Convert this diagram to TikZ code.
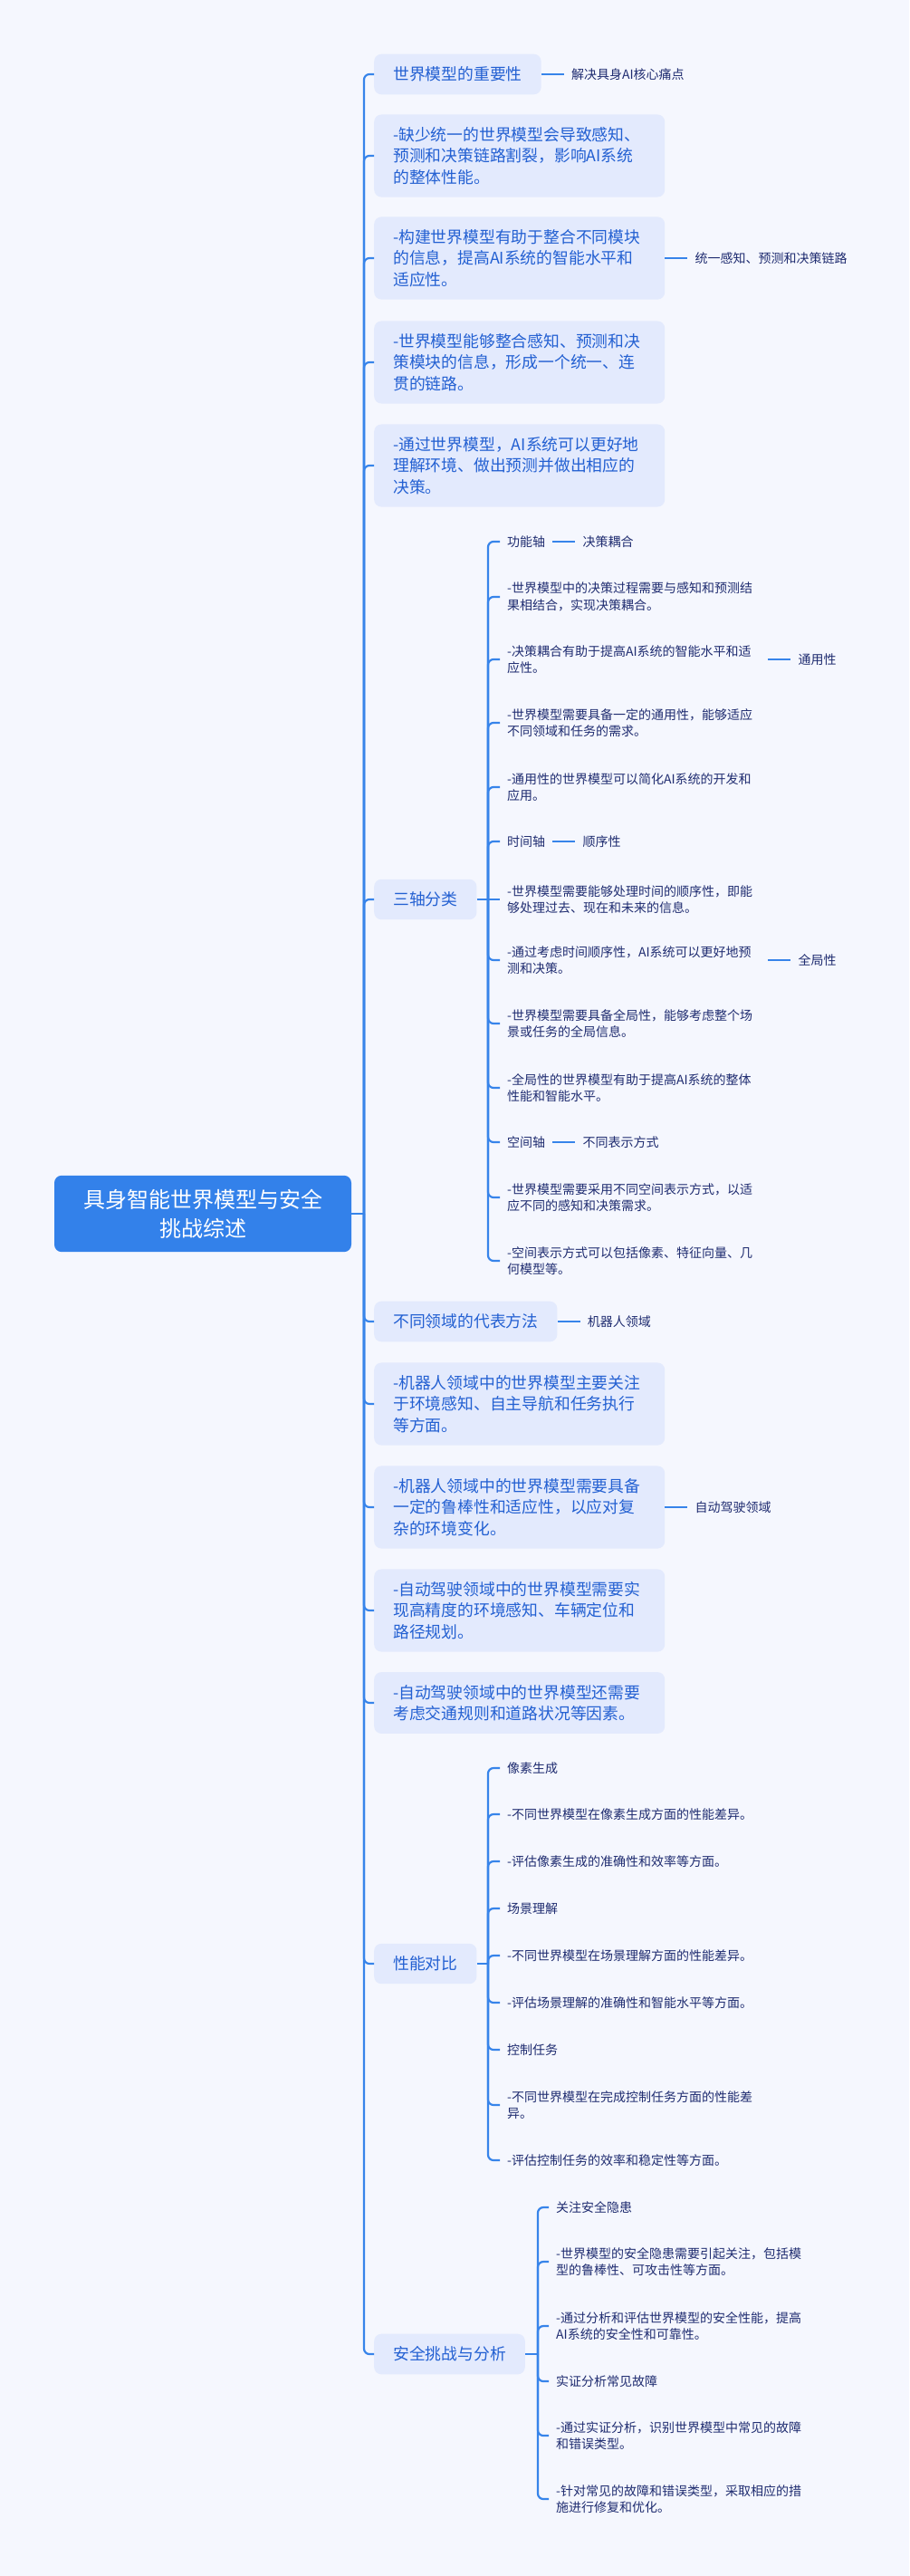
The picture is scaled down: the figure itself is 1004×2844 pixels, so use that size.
\documentclass[tikz,border=0pt]{standalone}
\usepackage{fontspec}
\setmainfont{Noto Sans CJK SC}
\usetikzlibrary{positioning}
\definecolor{bgcol}{HTML}{F5F7FE}
\definecolor{rootblue}{HTML}{3381EA}
\definecolor{topicfill}{HTML}{E3EAFD}
\definecolor{topiccol}{HTML}{2360D2}
\definecolor{itemcol}{HTML}{1F2C70}
\definecolor{linkblue}{HTML}{3784EA}

\begin{document}
\begin{tikzpicture}[x=1pt, y=-1pt, node distance=25pt,
  rootbox/.style={fill=rootblue, text=white, rounded corners=8pt, font=\fontsize{24}{32}\selectfont, align=center, minimum width=328pt, inner ysep=15pt},
  topicbox/.style={fill=topicfill, text=topiccol, rounded corners=8pt, font=\fontsize{17.8}{23.3}\selectfont, align=left, inner xsep=21pt, inner ysep=14pt, anchor=west},
  widebox/.style={topicbox, text width=279pt},
  itemtext/.style={text=itemcol, font=\fontsize{14}{18.5}\selectfont, align=left, inner xsep=8pt, inner ysep=4pt, anchor=west},
  wideitem/.style={itemtext, text width=280pt},
  leaftext/.style={text=itemcol, font=\fontsize{14}{18.5}\selectfont, inner xsep=8pt},
  branch/.style={draw=linkblue, line width=2.2pt, rounded corners=6pt}]

\fill[bgcol] (0,0) rectangle (1004,2844);

% root
\node[rootbox] (root) at (224,1340) {具身智能世界模型与安全\\挑战综述};

% first level
\node[topicbox] (imp) at (413,82) {世界模型的重要性};
\node[leaftext, right=of imp] (impL) {解决具身AI核心痛点};
\node[widebox] (imp1) at (413,172) {-缺少统一的世界模型会导致感知、\\预测和决策链路割裂，影响AI系统\\的整体性能。};
\node[widebox] (imp2) at (413,285) {-构建世界模型有助于整合不同模块\\的信息，提高AI系统的智能水平和\\适应性。};
\node[leaftext, right=of imp2] (imp2L) {统一感知、预测和决策链路};
\node[widebox] (imp3) at (413,400) {-世界模型能够整合感知、预测和决\\策模块的信息，形成一个统一、连\\贯的链路。};
\node[widebox] (imp4) at (413,514) {-通过世界模型，AI系统可以更好地\\理解环境、做出预测并做出相应的\\决策。};

\node[topicbox] (axis) at (413,993) {三轴分类};

\node[topicbox] (dom) at (413,1459) {不同领域的代表方法};
\node[leaftext, right=of dom] (domL) {机器人领域};
\node[widebox] (dom1) at (413,1550) {-机器人领域中的世界模型主要关注\\于环境感知、自主导航和任务执行\\等方面。};
\node[widebox] (dom2) at (413,1664) {-机器人领域中的世界模型需要具备\\一定的鲁棒性和适应性，以应对复\\杂的环境变化。};
\node[leaftext, right=of dom2] (dom2L) {自动驾驶领域};
\node[widebox] (dom3) at (413,1778) {-自动驾驶领域中的世界模型需要实\\现高精度的环境感知、车辆定位和\\路径规划。};
\node[widebox] (dom4) at (413,1880) {-自动驾驶领域中的世界模型还需要\\考虑交通规则和道路状况等因素。};

\node[topicbox] (perf) at (413,2168) {性能对比};
\node[topicbox] (safe) at (413,2599) {安全挑战与分析};

% 三轴分类
\node[itemtext] (ax1) at (552,598) {功能轴};
\node[leaftext, right=of ax1] (ax1L) {决策耦合};
\node[wideitem] (ax2) at (552,659) {-世界模型中的决策过程需要与感知和预测结\\果相结合，实现决策耦合。};
\node[wideitem] (ax3) at (552,728) {-决策耦合有助于提高AI系统的智能水平和适\\应性。};
\node[leaftext, right=of ax3] (ax3L) {通用性};
\node[wideitem] (ax4) at (552,798) {-世界模型需要具备一定的通用性，能够适应\\不同领域和任务的需求。};
\node[wideitem] (ax5) at (552,869) {-通用性的世界模型可以简化AI系统的开发和\\应用。};
\node[itemtext] (ax6) at (552,929) {时间轴};
\node[leaftext, right=of ax6] (ax6L) {顺序性};
\node[wideitem] (ax7) at (552,993) {-世界模型需要能够处理时间的顺序性，即能\\够处理过去、现在和未来的信息。};
\node[wideitem] (ax8) at (552,1060) {-通过考虑时间顺序性，AI系统可以更好地预\\测和决策。};
\node[leaftext, right=of ax8] (ax8L) {全局性};
\node[wideitem] (ax9) at (552,1130) {-世界模型需要具备全局性，能够考虑整个场\\景或任务的全局信息。};
\node[wideitem] (ax10) at (552,1201) {-全局性的世界模型有助于提高AI系统的整体\\性能和智能水平。};
\node[itemtext] (ax11) at (552,1261) {空间轴};
\node[leaftext, right=of ax11] (ax11L) {不同表示方式};
\node[wideitem] (ax12) at (552,1322) {-世界模型需要采用不同空间表示方式，以适\\应不同的感知和决策需求。};
\node[wideitem] (ax13) at (552,1392) {-空间表示方式可以包括像素、特征向量、几\\何模型等。};

% 性能对比
\node[itemtext] (pf1) at (552,1952) {像素生成};
\node[itemtext] (pf2) at (552,2003) {-不同世界模型在像素生成方面的性能差异。};
\node[itemtext] (pf3) at (552,2055) {-评估像素生成的准确性和效率等方面。};
\node[itemtext] (pf4) at (552,2107) {场景理解};
\node[itemtext] (pf5) at (552,2159) {-不同世界模型在场景理解方面的性能差异。};
\node[itemtext] (pf6) at (552,2211) {-评估场景理解的准确性和智能水平等方面。};
\node[itemtext] (pf7) at (552,2263) {控制任务};
\node[wideitem] (pf8) at (552,2324) {-不同世界模型在完成控制任务方面的性能差\\异。};
\node[itemtext] (pf9) at (552,2385) {-评估控制任务的效率和稳定性等方面。};

% 安全挑战与分析
\node[itemtext] (sf1) at (606,2437) {关注安全隐患};
\node[wideitem] (sf2) at (606,2497) {-世界模型的安全隐患需要引起关注，包括模\\型的鲁棒性、可攻击性等方面。};
\node[wideitem] (sf3) at (606,2568) {-通过分析和评估世界模型的安全性能，提高\\AI系统的安全性和可靠性。};
\node[itemtext] (sf4) at (606,2629) {实证分析常见故障};
\node[wideitem] (sf5) at (606,2689) {-通过实证分析，识别世界模型中常见的故障\\和错误类型。};
\node[wideitem] (sf6) at (606,2759) {-针对常见的故障和错误类型，采取相应的措\\施进行修复和优化。};

% branches
\coordinate (j0) at (402,1340);
\draw[branch] (root.east) -- (j0);
\foreach \n in {imp,imp1,imp2,imp3,imp4,axis,dom,dom1,dom2,dom3,dom4,perf,safe}
  \draw[branch] (j0) |- (\n.west);

\coordinate (jax) at (539,993);
\draw[branch] (axis.east) -- (jax) -- (ax7.west);
\foreach \n in {1,2,3,4,5,6,8,9,10,11,12,13}
  \draw[branch] (jax) |- (ax\n.west);

\coordinate (jpf) at (539,2168);
\draw[branch] (perf.east) -- (jpf);
\foreach \n in {1,...,9}
  \draw[branch] (jpf) |- (pf\n.west);

\coordinate (jsf) at (594,2599);
\draw[branch] (safe.east) -- (jsf);
\foreach \n in {1,...,6}
  \draw[branch] (jsf) |- (sf\n.west);

% leaves
\foreach \n in {imp,imp2,dom,dom2,ax1,ax3,ax6,ax8,ax11}
  \draw[branch] (\n.east) -- (\n L.west);
\end{tikzpicture}
\end{document}
